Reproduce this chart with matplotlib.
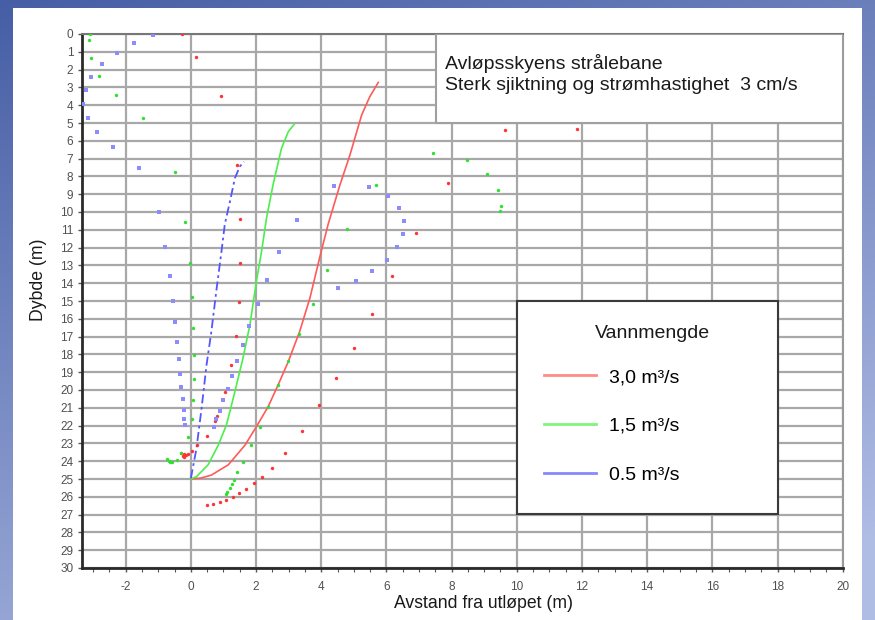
import numpy as np
import matplotlib.pyplot as plt
from matplotlib.patches import Rectangle
from matplotlib.lines import Line2D

plt.rcParams['font.family'] = ['Liberation Sans', 'DejaVu Sans']
plt.rcParams['axes.unicode_minus'] = False

# trajectory lines (avstand x, dybde y)
red_line_x = [0.0, 0.3, 0.63, 1.15, 1.66, 2.01, 2.37, 2.68, 2.99, 3.34, 3.65, 3.96, 4.21, 4.57, 4.88, 5.24, 5.49, 5.75]
red_line_y = [25.0, 24.95, 24.78, 24.2, 23.1, 22.06, 20.94, 19.7, 18.4, 16.7, 14.85, 12.5, 10.7, 8.5, 6.8, 4.55, 3.52, 2.72]

green_line_x = [0.0, 0.17, 0.53, 0.84, 1.09, 1.35, 1.6, 1.81, 2.01, 2.17, 2.32, 2.52, 2.78, 2.99, 3.17]
green_line_y = [25.0, 24.87, 24.2, 23.1, 21.97, 20.1, 18.2, 16.35, 13.9, 12.2, 10.35, 8.48, 6.42, 5.49, 5.07]

blue_line_x = [0.0, 0.17, 0.33, 0.48, 0.63, 0.79, 0.94, 1.04, 1.2, 1.35, 1.5, 1.63]
blue_line_y = [24.96, 23.3, 21.0, 18.6, 16.7, 14.3, 12.2, 10.7, 9.4, 8.1, 7.45, 7.17]

# plume boundary points
red_pts_x = [-0.27, 0.15, 0.91, 1.41, 1.52, 1.52, 1.47, 1.38, 1.23, 1.04, 0.8, 0.75, 0.48, 0.2, 0.02,
             -0.1, -0.15, -0.2, -0.25, -0.3, -0.22,
             0.48, 0.67, 0.89, 1.09, 1.29, 1.49, 1.69, 1.94, 2.19, 2.48, 2.88, 3.4, 3.94, 4.45,
             5.0, 5.56, 6.17, 6.9, 7.89, 9.65, 11.86]
red_pts_y = [0.02, 1.27, 3.46, 7.34, 10.39, 12.85, 15.07, 16.95, 18.6, 20.1, 21.44, 21.72, 22.57, 23.09, 23.44,
             23.6, 23.65, 23.58, 23.7, 23.55, 23.75,
             26.46, 26.39, 26.27, 26.18, 26.01, 25.8, 25.56, 25.24, 24.89, 24.36, 23.52, 22.29, 20.84, 19.3,
             17.62, 15.71, 13.58, 11.17, 8.35, 5.37, 5.34]

green_pts_x = [-3.09, -3.12, -3.05, -2.81, -2.31, -1.48, -0.49, -0.19, -0.04, 0.04, 0.08, 0.11, 0.11, 0.08,
               0.02, -0.1, -0.29, -0.44, -0.57, -0.64, -0.73, -0.68,
               1.07, 1.11, 1.2, 1.26, 1.32, 1.41, 1.6, 1.84, 2.12, 2.37, 2.66, 2.99, 3.32, 3.75, 4.18,
               4.79, 5.68, 7.43, 8.48, 9.09, 9.43, 9.52, 9.5]
green_pts_y = [0.02, 0.34, 1.33, 2.36, 3.43, 4.7, 7.75, 10.54, 12.85, 14.76, 16.52, 18.02, 19.36, 20.56,
               21.65, 22.62, 23.56, 23.93, 24.06, 24.03, 23.88, 24.0,
               25.84, 25.71, 25.49, 25.26, 25.06, 24.62, 24.03, 23.09, 22.06, 20.94, 19.72, 18.37, 16.84, 15.17, 13.26,
               10.97, 8.48, 6.69, 7.08, 7.87, 8.76, 9.66, 9.94]

blue_pts_x = [-1.17, -1.73, -2.28, -2.74, -3.05, -3.23, -3.3, -3.17, -2.89, -2.4, -1.6, -0.98, -0.78,
              -0.64, -0.56, -0.5, -0.44, -0.37, -0.34, -0.29, -0.25, -0.22, -0.22, -0.19,
              0.7, 0.76, 0.88, 0.98, 1.13, 1.26, 1.41, 1.6, 1.79, 2.05, 2.33, 2.7, 3.26, 4.4,
              5.46, 6.05, 6.38, 6.54, 6.51, 6.33, 6.02, 5.57, 5.07, 4.52]
blue_pts_y = [0.04, 0.49, 1.05, 1.67, 2.4, 3.13, 3.93, 4.7, 5.49, 6.33, 7.51, 9.98, 11.95,
              13.58, 14.98, 16.2, 17.29, 18.26, 19.08, 19.81, 20.5, 21.12, 21.63, 21.95,
              22.06, 21.65, 21.16, 20.58, 19.92, 19.21, 18.35, 17.47, 16.38, 15.15, 13.82, 12.23, 10.45, 8.52,
              8.58, 9.1, 9.76, 10.49, 11.22, 11.95, 12.7, 13.31, 13.88, 14.25]

legend_labels = ['3,0 m³/s', '1,5 m³/s', '0.5 m³/s']
line_colors = ['#ff5a5a', '#4cee4c', '#5555ff']
pt_colors = ['#ff3333', '#2fe02f', '#8c8cff']

fig = plt.figure(figsize=(8.75, 6.2), dpi=100)

# slide background
bg = fig.add_axes([0, 0, 1, 1], zorder=-10)
gy, gx = np.mgrid[0:1:200j, 0:1:200j]
t = np.clip(0.75 * gy + 0.35 * gx, 0, 1)
top = np.array([70, 94, 165]) / 255
bot = np.array([175, 188, 228]) / 255
img = top[None, None, :] * (1 - t[..., None]) + bot[None, None, :] * t[..., None]
bg.imshow(img, extent=[0, 1, 0, 1], aspect='auto', origin='upper')
bg.axis('off')
fig.patches.append(Rectangle((13 / 875, 0), (862 - 13) / 875, 1 - 8 / 620,
                             transform=fig.transFigure, facecolor='white', edgecolor='none', zorder=-5))

ax = fig.add_axes([81.7 / 875, 1 - 568 / 620, 761 / 875, 534 / 620])
ax.set_xlim(-3.35, 20)
ax.set_ylim(30, 0)
ax.set_xticks(np.arange(-2, 21, 2))
ax.set_xticks(np.arange(-3, 20.1, 0.5), minor=True)
ax.set_yticks(np.arange(0, 31, 1))
ax.grid(True, which='major', color='#a8a8a8', lw=1.6, zorder=0)
ax.set_axisbelow(True)
ax.tick_params(axis='both', which='major', length=3, width=1, color='#555555', labelsize=8.5,
               labelcolor='#505050', pad=3)
ax.tick_params(axis='x', which='minor', length=3, width=0.8, color='#555555')
ax.tick_params(axis='x', pad=6)
for s in ['left', 'bottom']:
    ax.spines[s].set_linewidth(2)
    ax.spines[s].set_color('#2a2a2a')
ax.spines['top'].set_color('#777777')
ax.spines['top'].set_linewidth(1.5)
ax.spines['right'].set_color('#999999')
ax.spines['right'].set_linewidth(1.5)

ax.plot(red_line_x, red_line_y, color=line_colors[0], lw=1.2, zorder=3)
ax.plot(green_line_x, green_line_y, color=line_colors[1], lw=1.2, zorder=3)
ax.plot(blue_line_x, blue_line_y, color=line_colors[2], lw=1.3, ls=(0, (5, 2, 1.5, 2)), zorder=3)

ax.scatter(red_pts_x, red_pts_y, s=6, color=pt_colors[0], lw=0, zorder=4)
ax.scatter(green_pts_x, green_pts_y, s=6, color=pt_colors[1], lw=0, zorder=4)
ax.scatter(blue_pts_x, blue_pts_y, s=8, marker='s', color=pt_colors[2], lw=0, zorder=4)

# title box
ax.add_patch(Rectangle((7.52, 0), 20 - 7.52, 4.98, facecolor='white', edgecolor='#a0a0a0', lw=1.5, zorder=5))
ax.text(7.8, 1.63, 'Avløpsskyens strålebane', fontsize=14, color='#1a1a1a', va='center', ha='left', zorder=6)
ax.text(7.8, 2.87, 'Sterk sjiktning og strømhastighet  3 cm/s', fontsize=14, color='#1a1a1a',
        va='center', ha='left', zorder=6)

# legend box
ax.add_patch(Rectangle((10.0, 15.0), 8.0, 11.97, facecolor='white', edgecolor='#3a3a3a', lw=1.5, zorder=5))
ax.text(14.17, 16.8, 'Vannmengde', fontsize=14, color='#1a1a1a', ha='center', va='center', zorder=6)
handles = [Line2D([], [], color=c, lw=2, alpha=0.7) for c in line_colors]
leg = ax.legend(handles, legend_labels, loc='upper left', bbox_to_anchor=(10.85, 18.79),
                bbox_transform=ax.transData, frameon=False, fontsize=14, handlelength=2.63,
                handletextpad=0.7, labelspacing=1.6, borderpad=0, borderaxespad=0)
leg.set_zorder(7)

ax.set_xlabel('Avstand fra utløpet (m)', fontsize=12.7, color='#1a1a1a')
ax.xaxis.set_label_coords((484 - 81.7) / 761, -0.05)
ax.set_ylabel('Dybde (m)', fontsize=12.7, color='#1a1a1a')
ax.yaxis.set_label_coords(-0.0456, (568 - 280) / 534)

fig.savefig('out.png', dpi=100)
